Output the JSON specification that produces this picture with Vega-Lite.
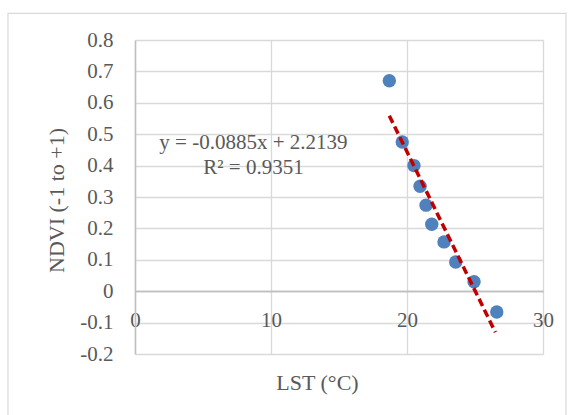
{
  "$schema": "https://vega.github.io/schema/vega-lite/v6.json",
  "width": 408,
  "height": 314,
  "autosize": {"type": "none"},
  "padding": {"left": 135, "top": 40, "right": 33, "bottom": 61},
  "background": "white",
  "config": {
    "font": "Liberation Serif",
    "view": {"stroke": null},
    "axis": {
      "labelColor": "#595959",
      "titleColor": "#595959",
      "titleFontWeight": "normal",
      "labelFont": "Liberation Serif",
      "titleFont": "Liberation Serif",
      "gridColor": "#d9d9d9",
      "gridWidth": 1.3,
      "domainColor": "#bfbfbf",
      "domainWidth": 1.5,
      "ticks": false,
      "tickSize": 0
    }
  },
  "datasets": {
    "points": [
      {"x": 18.70, "y": 0.670},
      {"x": 19.65, "y": 0.475},
      {"x": 20.51, "y": 0.400},
      {"x": 20.96, "y": 0.334},
      {"x": 21.40, "y": 0.274},
      {"x": 21.82, "y": 0.213},
      {"x": 22.72, "y": 0.157},
      {"x": 23.58, "y": 0.093},
      {"x": 24.93, "y": 0.030},
      {"x": 26.60, "y": -0.066}
    ],
    "trend": [
      {"x": 18.7, "y": 0.559},
      {"x": 26.5, "y": -0.131}
    ],
    "labels": [
      {"x": 8.71, "y": 0.471, "text": "y = -0.0885x + 2.2139"},
      {"x": 8.71, "y": 0.392, "text": "R² = 0.9351"}
    ],
    "frame": [
      {"x": -9.34, "x2": 31.69, "y": 0.885, "y2": -0.45}
    ]
  },
  "encoding": {
    "x": {
      "field": "x",
      "type": "quantitative",
      "scale": {"domain": [0, 30], "nice": false, "zero": false},
      "axis": {
        "title": "LST (°C)",
        "values": [0, 10, 20, 30],
        "offset": -63,
        "labelFontSize": 21,
        "labelPadding": 29,
        "labelBaseline": "middle",
        "labelFlush": false,
        "labelOverlap": false,
        "titleFontSize": 22,
        "titleX": 182,
        "titleY": 91,
        "titleBaseline": "middle",
        "grid": true
      }
    },
    "y": {
      "field": "y",
      "type": "quantitative",
      "scale": {"domain": [-0.2, 0.8], "nice": false, "zero": false},
      "axis": {
        "title": "NDVI (-1 to +1)",
        "values": [-0.2, -0.1, 0, 0.1, 0.2, 0.3, 0.4, 0.5, 0.6, 0.7, 0.8],
        "labelExpr": "'' + round(datum.value * 10) / 10",
        "labelFontSize": 21,
        "labelPadding": 22,
        "labelBaseline": "middle",
        "labelFlush": false,
        "labelOverlap": false,
        "titleFontSize": 22,
        "titleX": -79,
        "titleY": 160,
        "titleBaseline": "middle",
        "titleAngle": -90,
        "titleAlign": "center",
        "grid": true,
        "gridColor": {"condition": {"test": "abs(datum.value) < 0.001", "value": "#bfbfbf"}, "value": "#d9d9d9"},
        "gridWidth": {"condition": {"test": "abs(datum.value) < 0.001", "value": 1.5}, "value": 1.3}
      }
    }
  },
  "layer": [
    {
      "data": {"name": "frame"},
      "mark": {"type": "rect", "fill": "transparent", "stroke": "#d9d9d9", "strokeWidth": 1.2, "clip": false},
      "encoding": {
        "x2": {"field": "x2"},
        "y2": {"field": "y2"}
      }
    },
    {
      "data": {"name": "points"},
      "mark": {"type": "circle", "size": 180, "opacity": 1, "color": "#4F81BD"}
    },
    {
      "data": {"name": "trend"},
      "mark": {"type": "line", "color": "#C00000", "strokeWidth": 3.5, "strokeDash": [8, 4]}
    },
    {
      "data": {"name": "labels"},
      "mark": {"type": "text", "fontSize": 21, "color": "#595959", "align": "center", "baseline": "middle", "font": "Liberation Serif"},
      "encoding": {"text": {"field": "text"}}
    }
  ]
}
